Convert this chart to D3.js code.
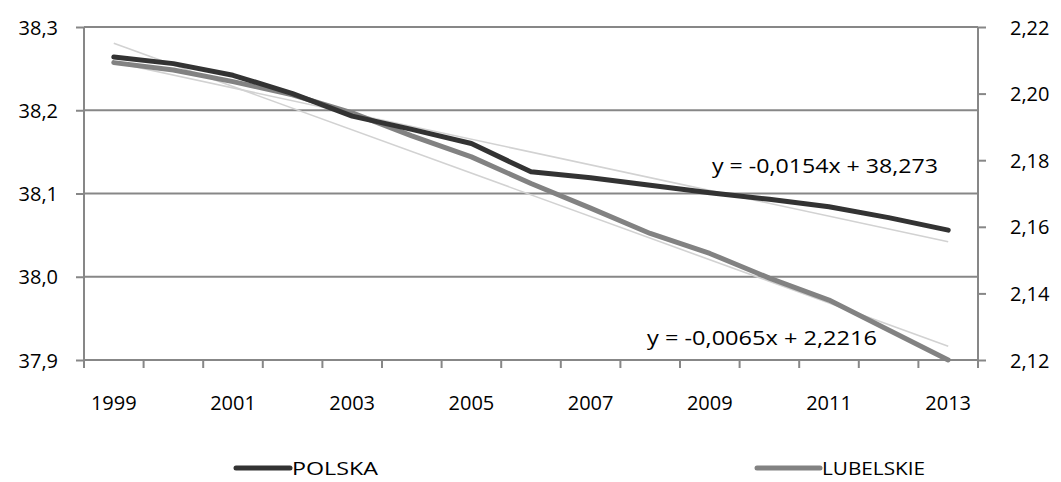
<!DOCTYPE html>
<html><head><meta charset="utf-8">
<script src="https://cdn.jsdelivr.net/npm/d3@7"></script>
<style>body{margin:0;background:#fff}svg{display:block}text{font-family:"Open Sans",sans-serif;fill:#000}</style>
</head><body><div id="c"></div>
<script>
const years = [1999,2000,2001,2002,2003,2004,2005,2006,2007,2008,2009,2010,2011,2012,2013];
const polska = [38.264,38.256,38.242,38.220,38.193,38.177,38.160,38.126,38.119,38.110,38.101,38.093,38.084,38.071,38.056];
const lubelskie = [2.2093,2.2071,2.2036,2.1996,2.1942,2.1873,2.1810,2.1730,2.1656,2.1580,2.1520,2.1446,2.1380,2.1290,2.1200];
const leftTicks = [37.9,38.0,38.1,38.2,38.3];
const rightTicks = [2.12,2.14,2.16,2.18,2.20,2.22];
const xLabelYears = [1999,2001,2003,2005,2007,2009,2011,2013];
const trendP = {a:-0.0154,b:38.273,label:"y = -0,0154x + 38,273"};
const trendL = {a:-0.0065,b:2.2216,label:"y = -0,0065x + 2,2216"};
const seriesNames = ["POLSKA","LUBELSKIE"];

const W=1061,H=482, L=84,R=978,T=27,B=360;
const FS="20px";
const svg=d3.select("#c").append("svg").attr("width",W).attr("height",H);
const x=d3.scaleBand().domain(years).range([L,R]);
const yL=d3.scaleLinear().domain([37.9,38.3]).range([B,T]);
const yR=d3.scaleLinear().domain([2.12,2.22]).range([B,T]);
const fmt=(d,n)=>d.toFixed(n).replace(".",",");
const gridC="#878787";

svg.append("g").selectAll("line").data(leftTicks).join("line")
 .attr("x1",L).attr("x2",R).attr("y1",d=>yL(d)).attr("y2",d=>yL(d))
 .attr("stroke",gridC).attr("stroke-width",2);
const gl=svg.append("g").attr("transform",`translate(${L},0)`)
 .call(d3.axisLeft(yL).tickValues(leftTicks).tickSize(8).tickPadding(8).tickFormat(d=>fmt(d,1)));
gl.select(".domain").attr("stroke",gridC).attr("stroke-width",2).attr("d",`M0,${T}V${B}`);
gl.selectAll(".tick line").attr("stroke",gridC).attr("stroke-width",2);
gl.selectAll(".tick text").style("font-size",FS).attr("x",-26).attr("dy","0.35em");
const gr=svg.append("g").attr("transform",`translate(${R},0)`)
 .call(d3.axisRight(yR).tickValues(rightTicks).tickSize(8).tickPadding(24).tickFormat(d=>fmt(d,2)));
gr.select(".domain").attr("stroke",gridC).attr("stroke-width",2).attr("d",`M0,${T}V${B}`);
gr.selectAll(".tick line").attr("stroke",gridC).attr("stroke-width",2);
gr.selectAll(".tick text").style("font-size",FS).attr("dy","0.35em");
const gb=svg.append("g").attr("transform",`translate(0,${B})`);
gb.append("line").attr("x1",L).attr("x2",R).attr("stroke",gridC).attr("stroke-width",2);
const bounds=years.map(d=>x(d)).concat([R]);
gb.selectAll("line.t").data(bounds).join("line").attr("class","t")
 .attr("x1",d=>d).attr("x2",d=>d).attr("y1",0).attr("y2",8).attr("stroke",gridC).attr("stroke-width",2);
gb.selectAll("text").data(xLabelYears).join("text")
 .attr("x",d=>x(d)+x.bandwidth()/2).attr("y",50).attr("text-anchor","middle")
 .style("font-size",FS).text(d=>d);

const cx=d=>x(d)+x.bandwidth()/2;
const n=years.length;
svg.append("line").attr("x1",cx(years[0])).attr("x2",cx(years[n-1]))
 .attr("y1",yL(trendP.a*1+trendP.b)).attr("y2",yL(trendP.a*n+trendP.b))
 .attr("stroke","#d2d2d2").attr("stroke-width",1.6);
svg.append("line").attr("x1",cx(years[0])).attr("x2",cx(years[n-1]))
 .attr("y1",yR(trendL.a*1+trendL.b)).attr("y2",yR(trendL.a*n+trendL.b))
 .attr("stroke","#d2d2d2").attr("stroke-width",1.6);
const lineL=d3.line().x((d,i)=>cx(years[i])).y(d=>yR(d));
const lineP=d3.line().x((d,i)=>cx(years[i])).y(d=>yL(d));
svg.append("path").attr("d",lineL(lubelskie)).attr("fill","none").attr("stroke","#828282").attr("stroke-width",5).attr("stroke-linejoin","round").attr("stroke-linecap","round");
svg.append("path").attr("d",lineP(polska)).attr("fill","none").attr("stroke","#333333").attr("stroke-width",5).attr("stroke-linejoin","round").attr("stroke-linecap","round");
svg.append("text").attr("x",712).attr("y",173).style("font-size",FS).attr("textLength",226).attr("lengthAdjust","spacingAndGlyphs").text(trendP.label);
svg.append("text").attr("x",647).attr("y",345).style("font-size",FS).attr("textLength",230).attr("lengthAdjust","spacingAndGlyphs").text(trendL.label);
const leg=[{name:seriesNames[0],c:"#333333",x1:236,x2:290,tw:86},{name:seriesNames[1],c:"#828282",x1:757,x2:820,tw:103}];
leg.forEach(d=>{
 svg.append("line").attr("x1",d.x1).attr("x2",d.x2).attr("y1",468).attr("y2",468).attr("stroke",d.c).attr("stroke-width",5).attr("stroke-linecap","round");
 svg.append("text").attr("x",d.x2+2).attr("y",475).style("font-size","19px").attr("textLength",d.tw).attr("lengthAdjust","spacingAndGlyphs").text(d.name);
});
</script></body></html>
